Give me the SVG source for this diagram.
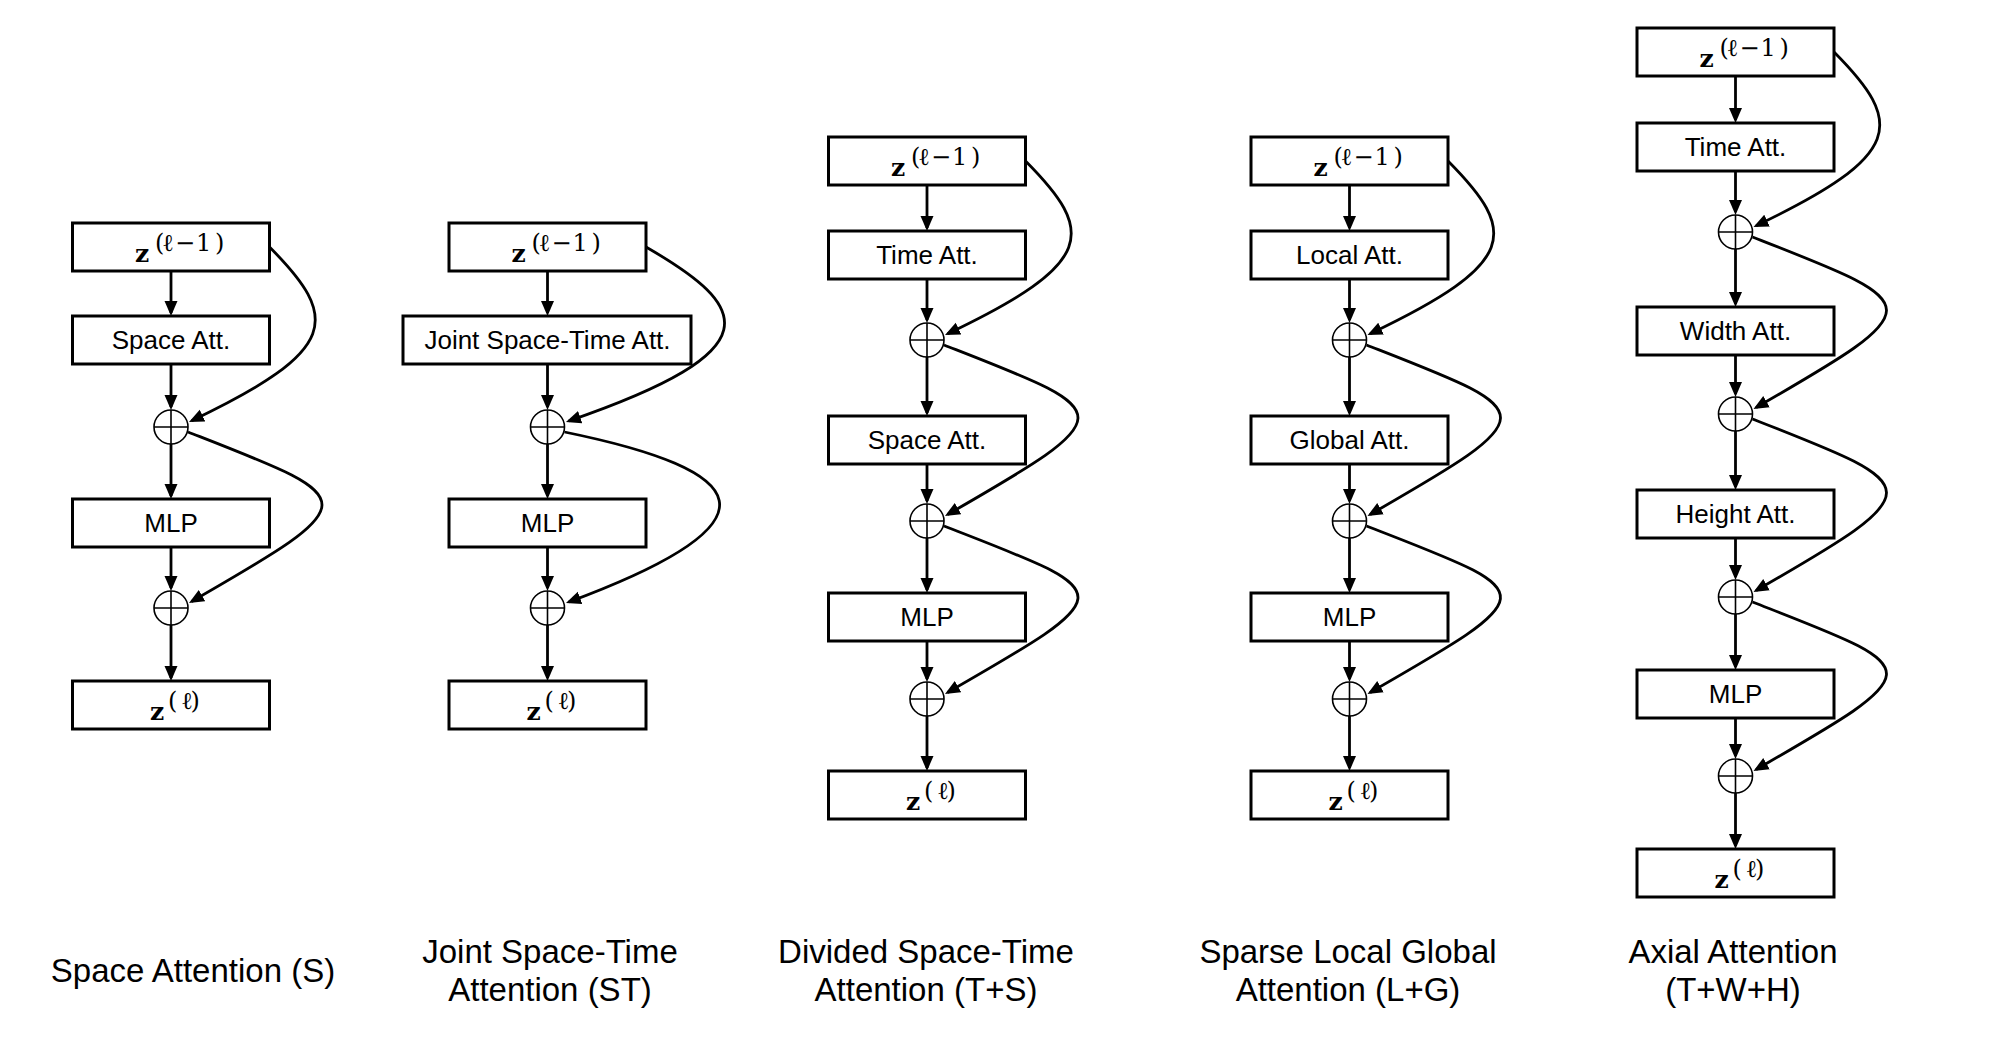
<svg xmlns="http://www.w3.org/2000/svg" width="2000" height="1040" viewBox="0 0 2000 1040">
<style>
.box{fill:#fff;stroke:#000;stroke-width:3}
.lbl{font-family:"Liberation Sans",Arial,sans-serif;font-size:26px;text-anchor:middle;fill:#000}
.cap{font-family:"Liberation Sans",Arial,sans-serif;font-size:33px;text-anchor:middle;fill:#000}
.zb{font-family:"DejaVu Serif","Liberation Serif",serif;font-size:25px;font-weight:bold;fill:#000}
.sup{font-family:"DejaVu Serif","Liberation Serif",serif;font-size:24px;fill:#000}
.sum circle{fill:#fff;stroke:#000;stroke-width:1.6}
.sum path{fill:none;stroke:#000;stroke-width:1.6}
.e{fill:none;stroke:#000;stroke-width:2.8;marker-end:url(#ah)}
</style>
<defs>
<marker id="ah" markerUnits="userSpaceOnUse" viewBox="0 0 15 15" markerWidth="15" markerHeight="15" refX="12" refY="7.5" orient="auto">
<path d="M0,1 L15,7.5 L0,14 z" fill="#000"/>
</marker>
</defs>
<rect width="2000" height="1040" fill="#fff"/>

<!-- Panel 1 -->
<g id="p1-zin"><rect class="box" x="72.5" y="223" width="197" height="48"/><text class="zb" x="135" y="262">z</text><text class="sup" x="155 162 175 196 215" y="251">(ℓ−1)</text></g>
<g id="p1-space"><rect class="box" x="72.5" y="316" width="197" height="48"/><text class="lbl" x="171" y="349">Space Att.</text></g>
<g id="p1-sum1" class="sum"><circle cx="171" cy="427" r="17"/><path d="M154,427H188M171,410V444"/></g>
<g id="p1-mlp"><rect class="box" x="72.5" y="499" width="197" height="48"/><text class="lbl" x="171" y="532">MLP</text></g>
<g id="p1-sum2" class="sum"><circle cx="171" cy="608" r="17"/><path d="M154,608H188M171,591V625"/></g>
<g id="p1-zout"><rect class="box" x="72.5" y="681" width="197" height="48"/><text class="zb" x="150" y="720">z</text><text class="sup" x="168 181 190.5" y="709">(ℓ)</text></g>

<!-- Panel 2 -->
<g id="p2-zin"><rect class="box" x="449" y="223" width="197" height="48"/><text class="zb" x="511.5" y="262">z</text><text class="sup" x="531.5 538.5 551.5 572.5 591.5" y="251">(ℓ−1)</text></g>
<g id="p2-joint"><rect class="box" x="403" y="316" width="288" height="48"/><text class="lbl" x="547.5" y="349">Joint Space-Time Att.</text></g>
<g id="p2-sum1" class="sum"><circle cx="547.5" cy="427" r="17"/><path d="M530.5,427H564.5M547.5,410V444"/></g>
<g id="p2-mlp"><rect class="box" x="449" y="499" width="197" height="48"/><text class="lbl" x="547.5" y="532">MLP</text></g>
<g id="p2-sum2" class="sum"><circle cx="547.5" cy="608" r="17"/><path d="M530.5,608H564.5M547.5,591V625"/></g>
<g id="p2-zout"><rect class="box" x="449" y="681" width="197" height="48"/><text class="zb" x="526.5" y="720">z</text><text class="sup" x="544.5 557.5 567" y="709">(ℓ)</text></g>

<!-- Panel 3 -->
<g id="p3-zin"><rect class="box" x="828.5" y="137" width="197" height="48"/><text class="zb" x="891" y="176">z</text><text class="sup" x="911 918 931 952 971" y="165">(ℓ−1)</text></g>
<g id="p3-time"><rect class="box" x="828.5" y="231" width="197" height="48"/><text class="lbl" x="927" y="264">Time Att.</text></g>
<g id="p3-sum1" class="sum"><circle cx="927" cy="340" r="17"/><path d="M910,340H944M927,323V357"/></g>
<g id="p3-space"><rect class="box" x="828.5" y="416" width="197" height="48"/><text class="lbl" x="927" y="449">Space Att.</text></g>
<g id="p3-sum2" class="sum"><circle cx="927" cy="521" r="17"/><path d="M910,521H944M927,504V538"/></g>
<g id="p3-mlp"><rect class="box" x="828.5" y="593" width="197" height="48"/><text class="lbl" x="927" y="626">MLP</text></g>
<g id="p3-sum3" class="sum"><circle cx="927" cy="699" r="17"/><path d="M910,699H944M927,682V716"/></g>
<g id="p3-zout"><rect class="box" x="828.5" y="771" width="197" height="48"/><text class="zb" x="906" y="810">z</text><text class="sup" x="924 937 946.5" y="799">(ℓ)</text></g>

<!-- Panel 4 -->
<g id="p4-zin"><rect class="box" x="1251" y="137" width="197" height="48"/><text class="zb" x="1313.5" y="176">z</text><text class="sup" x="1333.5 1340.5 1353.5 1374.5 1393.5" y="165">(ℓ−1)</text></g>
<g id="p4-local"><rect class="box" x="1251" y="231" width="197" height="48"/><text class="lbl" x="1349.5" y="264">Local Att.</text></g>
<g id="p4-sum1" class="sum"><circle cx="1349.5" cy="340" r="17"/><path d="M1332.5,340H1366.5M1349.5,323V357"/></g>
<g id="p4-global"><rect class="box" x="1251" y="416" width="197" height="48"/><text class="lbl" x="1349.5" y="449">Global Att.</text></g>
<g id="p4-sum2" class="sum"><circle cx="1349.5" cy="521" r="17"/><path d="M1332.5,521H1366.5M1349.5,504V538"/></g>
<g id="p4-mlp"><rect class="box" x="1251" y="593" width="197" height="48"/><text class="lbl" x="1349.5" y="626">MLP</text></g>
<g id="p4-sum3" class="sum"><circle cx="1349.5" cy="699" r="17"/><path d="M1332.5,699H1366.5M1349.5,682V716"/></g>
<g id="p4-zout"><rect class="box" x="1251" y="771" width="197" height="48"/><text class="zb" x="1328.5" y="810">z</text><text class="sup" x="1346.5 1359.5 1369" y="799">(ℓ)</text></g>

<!-- Panel 5 -->
<g id="p5-zin"><rect class="box" x="1637" y="28" width="197" height="48"/><text class="zb" x="1699.5" y="67">z</text><text class="sup" x="1719.5 1726.5 1739.5 1760.5 1779.5" y="56">(ℓ−1)</text></g>
<g id="p5-time"><rect class="box" x="1637" y="123" width="197" height="48"/><text class="lbl" x="1735.5" y="156">Time Att.</text></g>
<g id="p5-sum1" class="sum"><circle cx="1735.5" cy="232" r="17"/><path d="M1718.5,232H1752.5M1735.5,215V249"/></g>
<g id="p5-width"><rect class="box" x="1637" y="307" width="197" height="48"/><text class="lbl" x="1735.5" y="340">Width Att.</text></g>
<g id="p5-sum2" class="sum"><circle cx="1735.5" cy="414" r="17"/><path d="M1718.5,414H1752.5M1735.5,397V431"/></g>
<g id="p5-height"><rect class="box" x="1637" y="490" width="197" height="48"/><text class="lbl" x="1735.5" y="523">Height Att.</text></g>
<g id="p5-sum3" class="sum"><circle cx="1735.5" cy="597" r="17"/><path d="M1718.5,597H1752.5M1735.5,580V614"/></g>
<g id="p5-mlp"><rect class="box" x="1637" y="670" width="197" height="48"/><text class="lbl" x="1735.5" y="703">MLP</text></g>
<g id="p5-sum4" class="sum"><circle cx="1735.5" cy="776" r="17"/><path d="M1718.5,776H1752.5M1735.5,759V793"/></g>
<g id="p5-zout"><rect class="box" x="1637" y="849" width="197" height="48"/><text class="zb" x="1714.5" y="888">z</text><text class="sup" x="1732.5 1745.5 1755" y="877">(ℓ)</text></g>

<g id="connectors">
<!-- panel 1 -->
<path class="e" d="M171,271V313"/>
<path class="e" d="M171,364V407"/>
<path class="e" d="M171,444V496"/>
<path class="e" d="M171,547V588"/>
<path class="e" d="M171,625V678"/>
<path class="e" d="M269.5,247 C340,318 340,350 191.7,420.7"/>
<path class="e" d="M188,432 C362,500 370,499 191.6,601.5"/>
<!-- panel 2 -->
<path class="e" d="M547.5,271V313"/>
<path class="e" d="M547.5,364V407"/>
<path class="e" d="M547.5,444V496"/>
<path class="e" d="M547.5,547V588"/>
<path class="e" d="M547.5,625V678"/>
<path class="e" d="M646,247 C750,307 775,350 568.8,421"/>
<path class="e" d="M564.5,432 C750,470 790,520 568.8,602"/>
<!-- panel 3 -->
<path class="e" d="M927,185V228"/>
<path class="e" d="M927,279V320"/>
<path class="e" d="M927,357V413"/>
<path class="e" d="M927,464V501"/>
<path class="e" d="M927,538V590"/>
<path class="e" d="M927,641V679"/>
<path class="e" d="M927,716V768"/>
<path class="e" d="M1025.5,161 C1096,232 1096,263 947.7,333.7"/>
<path class="e" d="M944,345 C1118,413 1126,412 947.6,514.5"/>
<path class="e" d="M944,526 C1118,594 1126,590 947.6,692.5"/>
<!-- panel 4 -->
<path class="e" d="M1349.5,185V228"/>
<path class="e" d="M1349.5,279V320"/>
<path class="e" d="M1349.5,357V413"/>
<path class="e" d="M1349.5,464V501"/>
<path class="e" d="M1349.5,538V590"/>
<path class="e" d="M1349.5,641V679"/>
<path class="e" d="M1349.5,716V768"/>
<path class="e" d="M1448,161 C1518.5,232 1518.5,263 1370.2,333.7"/>
<path class="e" d="M1366.5,345 C1540.5,413 1548.5,412 1370.1,514.5"/>
<path class="e" d="M1366.5,526 C1540.5,594 1548.5,590 1370.1,692.5"/>
<!-- panel 5 -->
<path class="e" d="M1735.5,76V120"/>
<path class="e" d="M1735.5,171V212"/>
<path class="e" d="M1735.5,249V304"/>
<path class="e" d="M1735.5,355V394"/>
<path class="e" d="M1735.5,431V487"/>
<path class="e" d="M1735.5,538V577"/>
<path class="e" d="M1735.5,614V667"/>
<path class="e" d="M1735.5,718V756"/>
<path class="e" d="M1735.5,793V846"/>
<path class="e" d="M1834,52 C1904.5,123 1904.5,155 1756.2,225.7"/>
<path class="e" d="M1752.5,237 C1926.5,305 1934.5,305 1756.1,407.5"/>
<path class="e" d="M1752.5,419 C1926.5,487 1934.5,488 1756.1,590.5"/>
<path class="e" d="M1752.5,602 C1926.5,670 1934.5,667 1756.1,769.5"/>
</g>

<g id="captions">
<text class="cap" x="193" y="982">Space Attention (S)</text>
<text class="cap" x="550" y="963">Joint Space-Time</text>
<text class="cap" x="550" y="1001">Attention (ST)</text>
<text class="cap" x="926" y="963">Divided Space-Time</text>
<text class="cap" x="926" y="1001">Attention (T+S)</text>
<text class="cap" x="1348" y="963">Sparse Local Global</text>
<text class="cap" x="1348" y="1001">Attention (L+G)</text>
<text class="cap" x="1733" y="963">Axial Attention</text>
<text class="cap" x="1733" y="1001">(T+W+H)</text>
</g>
</svg>
